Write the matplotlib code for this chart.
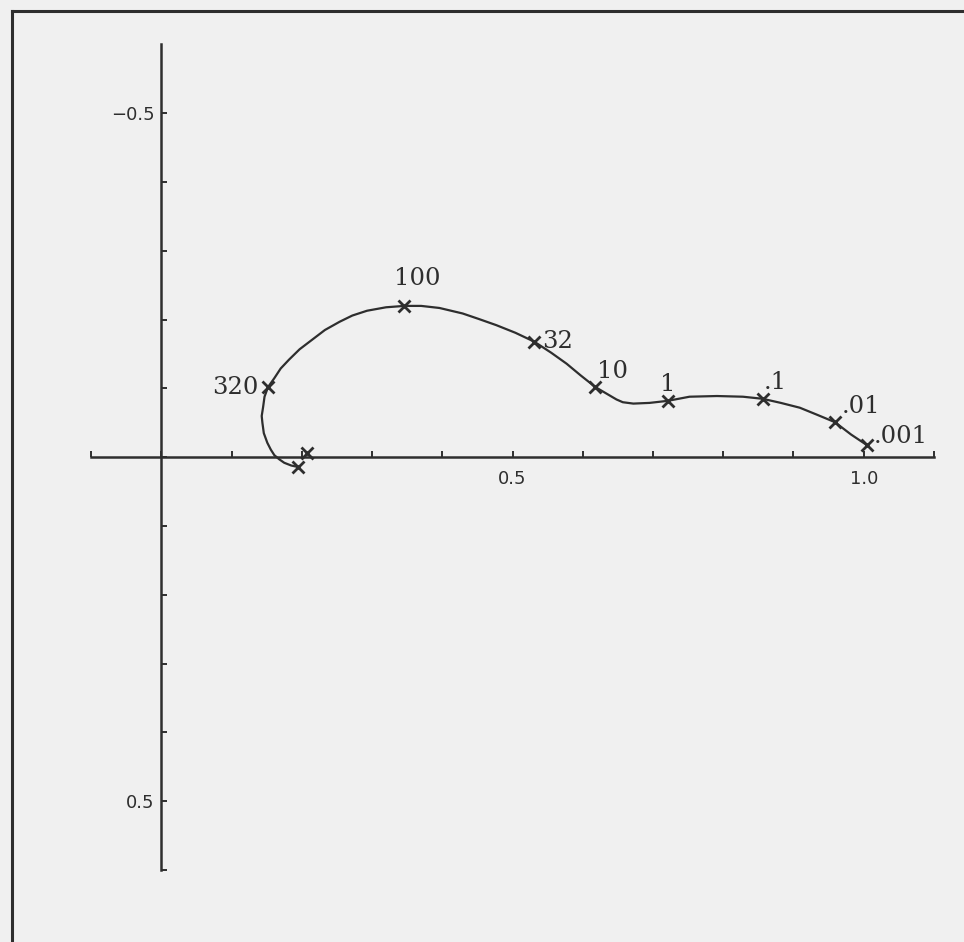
import matplotlib.pyplot as plt
from matplotlib.lines import Line2D
from matplotlib.ticker import FixedLocator, FixedFormatter

# impedance locus, real part vs imaginary part (imag axis drawn downward positive)
curve_re = [1.004, 0.982, 0.959, 0.933, 0.909, 0.882, 0.856, 0.828, 0.791, 0.752,
            0.721, 0.695, 0.672, 0.657, 0.648, 0.638, 0.618, 0.597, 0.577, 0.555,
            0.531, 0.504, 0.477, 0.452, 0.429, 0.396, 0.370, 0.346, 0.320, 0.293,
            0.272, 0.254, 0.233, 0.215, 0.197, 0.182, 0.170, 0.161, 0.152, 0.147,
            0.145, 0.143, 0.144, 0.146, 0.151, 0.156, 0.161, 0.168, 0.175, 0.185,
            0.194]
curve_im = [-0.018, -0.033, -0.051, -0.062, -0.072, -0.079, -0.085, -0.088, -0.089, -0.088,
            -0.082, -0.079, -0.078, -0.080, -0.084, -0.090, -0.102, -0.119, -0.136, -0.152,
            -0.168, -0.181, -0.192, -0.201, -0.209, -0.217, -0.220, -0.220, -0.218, -0.213,
            -0.206, -0.197, -0.185, -0.171, -0.157, -0.142, -0.129, -0.115, -0.102, -0.088,
            -0.073, -0.060, -0.050, -0.035, -0.021, -0.011, -0.003, 0.003, 0.008, 0.012,
            0.014]

# marked frequencies
freq_labels = ['.001', '.01', '.1', '1', '10', '32', '100', '320', '', '']
freq_re = [1.004, 0.959, 0.856, 0.721, 0.618, 0.531, 0.346, 0.152, 0.194, 0.207]
freq_im = [-0.018, -0.051, -0.085, -0.082, -0.102, -0.168, -0.220, -0.102, 0.014, -0.006]

xticks = [-0.1, 0.0, 0.1, 0.2, 0.3, 0.4, 0.5, 0.6, 0.7, 0.8, 0.9, 1.0, 1.1]
xtick_labels = ['', '', '', '', '', '', '0.5', '', '', '', '', '1.0', '']
yticks = [-0.5, -0.4, -0.3, -0.2, -0.1, 0.0, 0.1, 0.2, 0.3, 0.4, 0.5, 0.6]
ytick_labels = ['\u22120.5', '', '', '', '', '', '', '', '', '', '0.5', '']

# label offsets in points (dx, dy, ha, va)
label_pos = {
    '.001': (5, 6, 'left', 'center'),
    '.01': (5, 11, 'left', 'center'),
    '.1': (1, 12, 'left', 'center'),
    '1': (0, 12, 'center', 'center'),
    '10': (1, 11, 'left', 'center'),
    '32': (6, 0, 'left', 'center'),
    '100': (9, 20, 'center', 'center'),
    '320': (-7, 0, 'right', 'center'),
}

ink = '#2e2e2e'
bg = '#f0f0f0'

fig = plt.figure(figsize=(9.64, 9.42), dpi=100, facecolor=bg)
ax = fig.add_axes([91 / 964, 1 - 870 / 942, 843 / 964, 825.5 / 942])
ax.set_facecolor(bg)

ax.plot(curve_re, curve_im, color=ink, lw=1.6, zorder=3, solid_joinstyle='round')
ax.plot(freq_re, freq_im, 'x', color=ink, ms=8.5, mew=2.0, zorder=4)

for lab, xr, yi in zip(freq_labels, freq_re, freq_im):
    if not lab:
        continue
    dx, dy, ha, va = label_pos[lab]
    ax.annotate(lab, (xr, yi), xytext=(dx, dy), textcoords='offset points',
                ha=ha, va=va, fontsize=17.5, family='DejaVu Serif', color=ink)

ax.set_xlim(-0.1, 1.1)
ax.set_ylim(0.6, -0.6)

for side in ['top', 'right']:
    ax.spines[side].set_visible(False)
ax.spines['left'].set_position(('data', 0))
ax.spines['bottom'].set_position(('data', 0))
for side in ['left', 'bottom']:
    ax.spines[side].set_color(ink)
    ax.spines[side].set_linewidth(1.8)

ax.xaxis.set_major_locator(FixedLocator(xticks))
ax.xaxis.set_major_formatter(FixedFormatter(xtick_labels))
ax.yaxis.set_major_locator(FixedLocator(yticks))
ax.yaxis.set_major_formatter(FixedFormatter(ytick_labels))
ax.tick_params(direction='in', length=4, width=1.4, color=ink, labelcolor=ink,
               labelsize=13)
ax.tick_params(axis='x', pad=9)
ax.tick_params(axis='y', pad=5)

# page frame on the left and top
fig.add_artist(Line2D([12 / 964, 12 / 964], [0, 1 - 11 / 942], color=ink, lw=2.2,
                      transform=fig.transFigure))
fig.add_artist(Line2D([12 / 964, 1], [1 - 11 / 942, 1 - 11 / 942], color=ink, lw=2.2,
                      transform=fig.transFigure))

fig.savefig('out.png', dpi=100, facecolor=bg)
